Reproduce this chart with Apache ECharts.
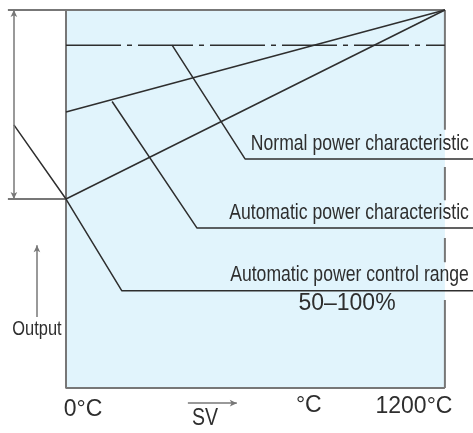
<!DOCTYPE html>
<html>
<head>
<meta charset="utf-8">
<script src="https://cdn.jsdelivr.net/npm/echarts@6/dist/echarts.min.js"></script>
<style>
  html, body { margin: 0; padding: 0; background: #fff; }
  #chart { width: 473px; height: 433px; }
</style>
</head>
<body>
<div id="chart"></div>
<script>
// x = set value (degC), y = output (%)
var tempEnds = [0, 1200];
var normalOutput = [73, 100];      // normal power characteristic
var autoOutput = [50, 100];        // automatic power characteristic
var limitOutput = 90.7;            // dash-dot level

// leader polylines, [degC, %]
var normalLeader = [[336, 90.7], [567, 60.6], [1289, 60.6]];
var autoLeader = [[146, 75.8], [415, 42.3], [1289, 42.3]];
var rangeLeader = [[-165, 69.6], [0, 50], [177, 25.7], [1289, 25.7]];

// right edge of the box is broken where the notes cross it
var rightEdge = [[68.3, 100], [49.7, 58.5], [33.3, 39.7], [0, 23.3]];

var notes = ['Normal power characteristic', 'Automatic power characteristic', 'Automatic power control range'];
var rangeText = '50–100%';
var bottomTexts = ['0°C', 'SV', '°C', '1200°C'];

// anchors for the texts (data coords)
var noteAnchor = { x: 1276, y: [64.7, 46.2, 29.9] };
var rangeAnchor = [890, 22.2];
var outputAnchor = [-92, 15.5];
var bottomAnchor = [[54, -5.6], [440, -8.0], [769, -4.6], [1102, -4.8]];

var ink = '#2e2e2e';
var frameGrey = '#777777';
var narrow = '"Liberation Sans", Arial, sans-serif';

var chart = echarts.init(document.getElementById('chart'));

function seg(pairs) {
  var out = [];
  pairs.forEach(function (p, i) {
    if (i) out.push([1200, '-']);
    out.push([1200, p[0]], [1200, p[1]]);
  });
  return out;
}

var lineBase = {
  type: 'line', symbol: 'none', silent: true, animation: false,
  lineStyle: { color: ink, width: 1.5 }
};

var series = [
  {
    type: 'line', data: [], silent: true, z: 0,
    markArea: {
      silent: true,
      itemStyle: { color: '#e1f4fc' },
      data: [[{ coord: [tempEnds[0], 0] }, { coord: [tempEnds[1], 100] }]]
    }
  },
  Object.assign({}, lineBase, {
    data: [[tempEnds[1], 100], [tempEnds[0], 100], [tempEnds[0], 0], [tempEnds[1], 0]],
    lineStyle: { color: frameGrey, width: 2 }
  }),
  Object.assign({}, lineBase, {
    data: seg(rightEdge),
    lineStyle: { color: frameGrey, width: 2 }
  }),
  // left tick lines of the range
  Object.assign({}, lineBase, {
    data: [[-184, 100], [0, 100], [0, '-'], [-184, 50], [0, 50]],
    lineStyle: { color: frameGrey, width: 2 }
  }),
  Object.assign({}, lineBase, {
    data: [[tempEnds[0], limitOutput], [tempEnds[1], limitOutput]],
    lineStyle: { color: ink, width: 1.5, type: [55, 6, 5, 6] }
  }),
  Object.assign({}, lineBase, { data: tempEnds.map(function (t, i) { return [t, normalOutput[i]]; }) }),
  Object.assign({}, lineBase, { data: tempEnds.map(function (t, i) { return [t, autoOutput[i]]; }) }),
  Object.assign({}, lineBase, { data: normalLeader }),
  Object.assign({}, lineBase, { data: autoLeader }),
  Object.assign({}, lineBase, { data: rangeLeader }),
  // arrows
  {
    type: 'line', data: [], silent: true,
    markLine: {
      silent: true, animation: false,
      label: { show: false },
      lineStyle: { color: frameGrey, width: 1.5, type: 'solid' },
      symbol: ['arrow', 'arrow'], symbolSize: [5, 7],
      data: [
        [{ coord: [-165, 100] }, { coord: [-165, 50] }],
        [{ coord: [-92, 18.8], symbol: 'none' }, { coord: [-92, 37.8] }],
        [{ coord: [386, -4.0], symbol: 'none' }, { coord: [541, -4.0] }]
      ]
    }
  }
];

chart.setOption({
  animation: false,
  grid: { left: 0, right: 0, top: 0, bottom: 0 },
  xAxis: { type: 'value', min: -209, max: 1289, show: false },
  yAxis: { type: 'value', min: -11.9, max: 102.65, show: false },
  series: series
});

// texts placed through the grid's scales
function textAt(coord, text, size, align, sx) {
  var p = chart.convertToPixel({ gridIndex: 0 }, coord);
  return {
    type: 'text', x: p[0], y: p[1], scaleX: sx, silent: true, z: 50,
    style: {
      text: text, x: 0, y: 0, fill: ink, align: align, verticalAlign: 'middle',
      font: size + 'px ' + narrow
    }
  };
}

var graphics = notes.map(function (n, i) {
  return textAt([noteAnchor.x, noteAnchor.y[i]], n, 22, 'right', 0.8);
});
graphics.push(textAt(outputAnchor, 'Output', 20, 'center', 0.82));
graphics.push(textAt(rangeAnchor, rangeText, 23, 'center', 1));
bottomTexts.forEach(function (t, i) {
  graphics.push(textAt(bottomAnchor[i], t, 23, 'center', t === 'SV' ? 0.85 : 1));
});

chart.setOption({ graphic: graphics });
</script>
</body>
</html>
